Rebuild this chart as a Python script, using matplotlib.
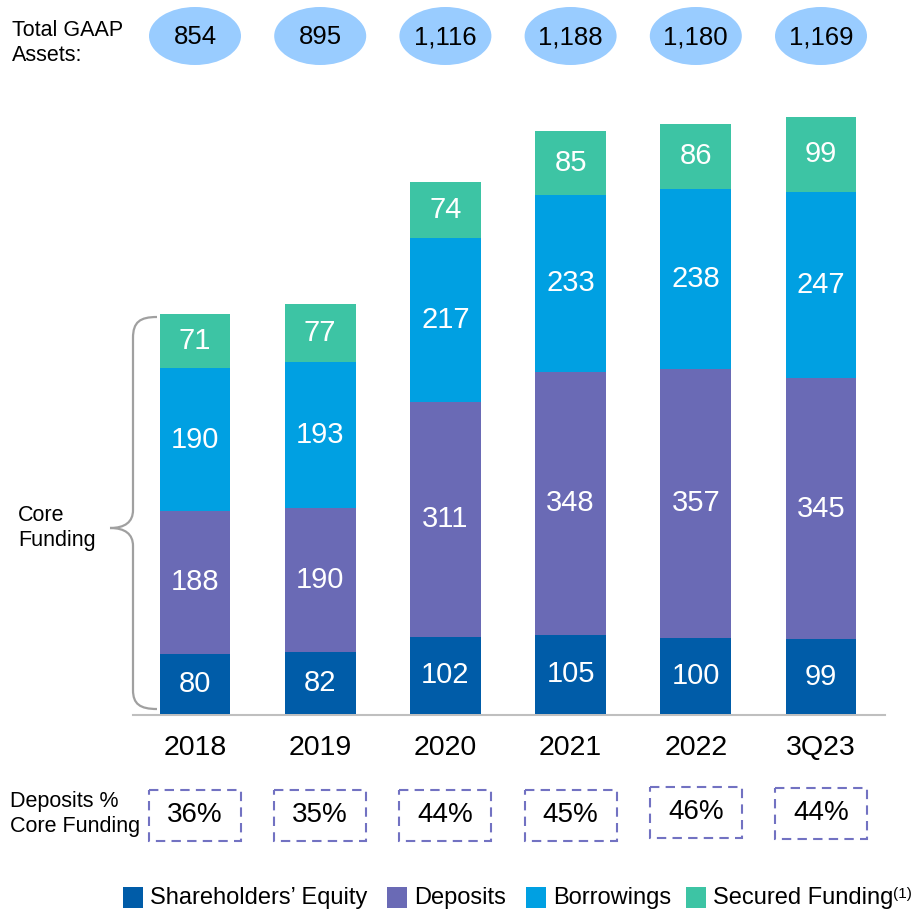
import matplotlib
matplotlib.use("Agg")
import matplotlib.pyplot as plt
import matplotlib.transforms as mtransforms
from matplotlib.patches import Ellipse, Rectangle, PathPatch
from matplotlib.path import Path
import numpy as np

plt.rcParams['font.family'] = ['Liberation Sans', 'DejaVu Sans']

# ---- data ----
periods = ["2018", "2019", "2020", "2021", "2022", "3Q23"]
total_gaap_assets = ["854", "895", "1,116", "1,188", "1,180", "1,169"]
equity = [80, 82, 102, 105, 100, 99]
deposits = [188, 190, 311, 348, 357, 345]
borrowings = [190, 193, 217, 233, 238, 247]
secured = [71, 77, 74, 85, 86, 99]
deposits_pct = ["36%", "35%", "44%", "45%", "46%", "44%"]
series_names = ["Shareholders\u2019 Equity", "Deposits", "Borrowings", "Secured Funding"]
colors = ["#005CA8", "#6A6AB5", "#00A0E2", "#3DC4A4"]

W, H = 916, 911
fig = plt.figure(figsize=(W / 100, H / 100), dpi=100)
ax = fig.add_axes([0, 0, 1, 1])
ax.set_axis_off()

# mapping: bar centre pixels 195 + 125.2*i, baseline 714 px, 0.756 px per unit
x0, dx = 195.0, 125.2
y0, sy = 714.0, 0.756
ax.set_xlim(-x0 / dx, (W - x0) / dx)
ax.set_ylim(-(H - y0) / sy, y0 / sy)

# pixel transform (y down)
px = mtransforms.Affine2D().scale(1 / W, -1 / H).translate(0, 1) + fig.transFigure
bx = mtransforms.blended_transform_factory(ax.transData, px)

side_fs = 15.5
side_ls = 1.22

x = np.arange(len(periods))
series = [equity, deposits, borrowings, secured]
bottom = np.zeros(len(periods))
for vals, c in zip(series, colors):
    vals = np.array(vals, dtype=float)
    ax.bar(x, vals, bottom=bottom, width=0.567, color=c, linewidth=0, zorder=3)
    for xi, b, v in zip(x, bottom, vals):
        ax.text(xi, b + v / 2, f"{int(v)}", ha='center', va='center', color='white',
                fontsize=21, zorder=4)
    bottom += vals

# baseline
ax.plot([133, 885], [715, 715], color="#BFBFBF", lw=1.5, transform=px, zorder=2)

# year labels
for xi, p in zip(x, periods):
    ax.text(xi, 748, p, transform=bx, ha='center', va='center', fontsize=20.5, color='black')

# total GAAP assets ellipses
ax.text(12, 43, "Total GAAP\nAssets:", transform=px, ha='left', va='center',
        fontsize=side_fs, linespacing=side_ls)
for xi, t in zip(x, total_gaap_assets):
    e = Ellipse((xi, 36), width=92 / dx, height=58, transform=bx,
                facecolor="#99CCFF", edgecolor='none', zorder=3)
    ax.add_patch(e)
    ax.text(xi, 37, t, transform=bx, ha='center', va='center', fontsize=18.5, zorder=4)

# deposits % core funding boxes
ax.text(10, 814, "Deposits %\nCore Funding", transform=px, ha='left', va='center',
        fontsize=side_fs, linespacing=side_ls)
box_dy = [0, 0, 0, 0, -3, -2]
for xi, t, dy in zip(x, deposits_pct, box_dy):
    r = Rectangle((xi - 46 / dx, 790 + dy), 92 / dx, 51, transform=bx,
                  facecolor='none', edgecolor="#7272C2", lw=1.5,
                  linestyle=(0, (4.5, 3)), zorder=3)
    ax.add_patch(r)
    ax.text(xi, 815 + dy, t, transform=bx, ha='center', va='center', fontsize=20)

# core funding brace
verts = [(157, 317), (140, 317), (133, 322), (133, 338),
         (133, 510),
         (133, 522), (125, 528), (110, 528),
         (125, 528), (133, 534), (133, 546),
         (133, 690),
         (133, 704), (140, 709), (157, 709)]
codes = [Path.MOVETO, Path.CURVE4, Path.CURVE4, Path.CURVE4,
         Path.LINETO,
         Path.CURVE4, Path.CURVE4, Path.CURVE4,
         Path.CURVE4, Path.CURVE4, Path.CURVE4,
         Path.LINETO,
         Path.CURVE4, Path.CURVE4, Path.CURVE4]
ax.add_patch(PathPatch(Path(verts, codes), transform=px, facecolor='none',
                       edgecolor="#A0A0A0", lw=1.6, zorder=2))
ax.text(18, 528, "Core\nFunding", transform=px, ha='left', va='center',
        fontsize=side_fs, linespacing=side_ls)

# legend
sq_x = [123, 387, 526, 686]
for sx, name, c in zip(sq_x, series_names, colors):
    ax.add_patch(Rectangle((sx, 887), 20, 21, transform=px, facecolor=c,
                           edgecolor='none'))
    t = ax.text(sx + 27, 898, name, transform=px, ha='left', va='center', fontsize=17)
ax.annotate("(1)", xy=(1.0, 1.0), xycoords=t, ha='left', va='top', fontsize=11)

fig.savefig("out.png", dpi=100)
